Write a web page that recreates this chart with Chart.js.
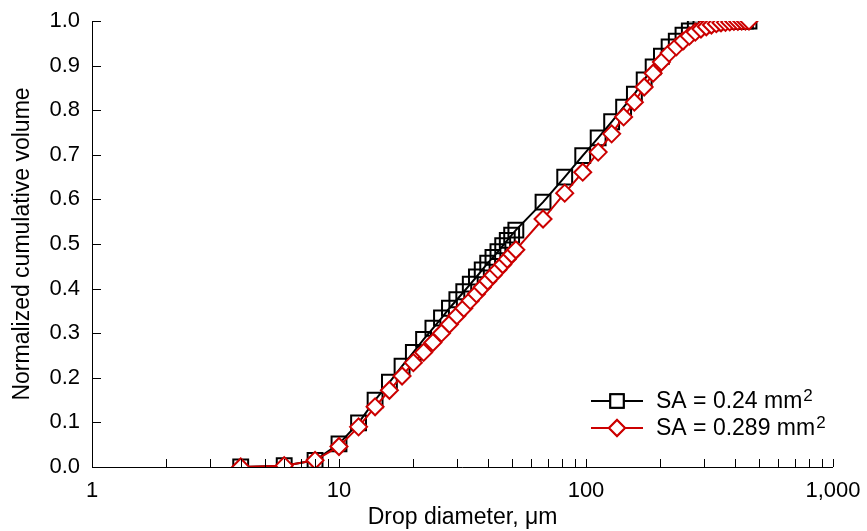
<!DOCTYPE html>
<html>
<head>
<meta charset="utf-8">
<script src="https://cdn.jsdelivr.net/npm/chart.js@4.4.1/dist/chart.umd.min.js"></script>
<style>
html,body{margin:0;padding:0;background:#fff;}
#wrap{position:relative;width:867px;height:531px;}
</style>
</head>
<body>
<div id="wrap"><canvas id="c" width="867" height="531"></canvas></div>
<script>
// Drop diameters (µm)
const diameters = [4,6,8,10,12,14,16,18,20,22,24,26,28,30,32,34,36,38,40,42,44,46,48,50,52,
  67,82,97,112,127,142,157,172,187,202,217,232,247,262,277,292,307,322,337,352,367,382,397,412,427,442,457];
// Normalized cumulative volume, SA = 0.24 mm²
const volSA024 = [0.0,0.003,0.015,0.052,0.099,0.150,0.190,0.226,0.257,0.286,0.311,0.334,0.356,0.375,0.393,0.410,0.426,0.442,0.457,0.470,0.483,0.496,0.508,0.520,0.531,
  0.594,0.650,0.698,0.738,0.774,0.807,0.836,0.868,0.897,0.921,0.942,0.955,0.968,0.978,0.985,0.990,0.994,0.996,0.998,0.999,1.0,1.0,1.0,1.0,1.0,1.0,1.0];
// Normalized cumulative volume, SA = 0.289 mm²
const volSA0289 = [0.0,0.003,0.015,0.046,0.090,0.135,0.172,0.204,0.234,0.257,0.279,0.300,0.320,0.339,0.356,0.373,0.388,0.403,0.417,0.430,0.442,0.454,0.466,0.477,0.487,
  0.556,0.614,0.661,0.706,0.747,0.785,0.818,0.852,0.883,0.908,0.928,0.942,0.955,0.966,0.975,0.982,0.987,0.991,0.994,0.996,0.997,0.998,0.999,0.999,1.0,1.0,1.0];
const xTickLabels = {1:'1',10:'10',100:'100',1000:'1,000'};
const yTicks = [0,0.1,0.2,0.3,0.4,0.5,0.6,0.7,0.8,0.9,1.0];
const seriesNames = ['SA = 0.24 mm', 'SA = 0.289 mm'];

const RED = '#cc0000';
const FONT = '"Liberation Sans", Arial, sans-serif';

const toPts = vals => diameters.map((d,i)=>({x:d,y:vals[i]}));

const axesPlugin = {
  id:'axesPlugin',
  afterDraw(chart){
    const ctx = chart.ctx, a = chart.chartArea, xs = chart.scales.x, ys = chart.scales.y;
    ctx.save();
    ctx.strokeStyle = '#000'; ctx.lineWidth = 1;
    ctx.beginPath();
    ctx.moveTo(Math.round(a.left)+0.5, a.top);
    ctx.lineTo(Math.round(a.left)+0.5, Math.round(a.bottom)+0.5);
    ctx.lineTo(a.right, Math.round(a.bottom)+0.5);
    ctx.stroke();
    // x ticks (major + minor), inward
    ctx.beginPath();
    for (let dec=1; dec<1000; dec*=10){
      for (let m=1; m<=10; m++){
        const v = dec*m; if (v>1000) continue;
        const px = Math.round(xs.getPixelForValue(v))+0.5;
        ctx.moveTo(px, a.bottom); ctx.lineTo(px, a.bottom-8);
      }
    }
    yTicks.forEach(v=>{
      const py = Math.round(ys.getPixelForValue(v))+0.5;
      ctx.moveTo(a.left, py); ctx.lineTo(a.left+9, py);
    });
    ctx.stroke();
    ctx.restore();
  }
};

const legendPlugin = {
  id:'legendPlugin',
  afterDraw(chart){
    const ctx = chart.ctx;
    const items = [
      {y:401, color:'#000', style:'rect', r:9.5},
      {y:428, color:RED, style:'rectRot', r:8}
    ];
    ctx.save();
    items.forEach((it,i)=>{
      ctx.strokeStyle = it.color; ctx.lineWidth = 2;
      ctx.beginPath(); ctx.moveTo(591,it.y); ctx.lineTo(643,it.y); ctx.stroke();
      ctx.fillStyle = '#fff';
      Chart.helpers.drawPoint(ctx,{pointStyle:it.style,radius:it.r,borderWidth:2},617,it.y);
      ctx.fill(); ctx.stroke();
      ctx.fillStyle = '#000';
      ctx.font = '23px ' + FONT;
      ctx.textBaseline = 'middle'; ctx.textAlign = 'left';
      ctx.fillText(seriesNames[i], 656, it.y+1);
      const w = ctx.measureText(seriesNames[i]).width;
      ctx.font = '17px ' + FONT;
      ctx.fillText('2', 656+w+1, it.y-5);
    });
    ctx.restore();
  }
};

new Chart(document.getElementById('c'), {
  type:'line',
  data:{
    datasets:[
      {label:seriesNames[0], data:toPts(volSA024), borderColor:'#000', borderWidth:2,
       pointStyle:'rect', pointRadius:10.5, pointBorderWidth:2, pointBackgroundColor:'rgba(255,255,255,0)',
       pointBorderColor:'#000', order:2, tension:0},
      {label:seriesNames[1], data:toPts(volSA0289), borderColor:RED, borderWidth:2,
       pointStyle:'rectRot', pointRadius:8.5, pointBorderWidth:2, pointBackgroundColor:'#fff',
       pointBorderColor:RED, order:1, tension:0}
    ]
  },
  options:{
    responsive:false, animation:false, devicePixelRatio:1,
    layout:{padding:{top:21,right:34,left:0,bottom:0}},
    plugins:{legend:{display:false}, tooltip:{enabled:false}},
    scales:{
      x:{type:'logarithmic', min:1, max:1000,
        afterBuildTicks(s){ s.ticks = [1,10,100,1000].map(v=>({value:v})); },
        afterFit(s){ s.height = 64; },
        grid:{display:false}, border:{display:false},
        ticks:{autoSkip:false, maxRotation:0, padding:3, color:'#000',
          font:{family:FONT,size:22}, callback:(v)=>xTickLabels[v]||''},
        title:{display:true, text:'Drop diameter, μm', color:'#000', font:{family:FONT,size:23}, padding:{top:0,bottom:0}}
      },
      y:{min:0, max:1,
        afterBuildTicks(s){ s.ticks = yTicks.map(v=>({value:v})); },
        afterFit(s){ s.width = 92; },
        grid:{display:false}, border:{display:false},
        ticks:{color:'#000', padding:4, font:{family:FONT,size:22}, callback:(v)=>Number(v).toFixed(1)},
        title:{display:true, text:'Normalized cumulative volume', color:'#000', font:{family:FONT,size:23}, padding:{top:9,bottom:0}}
      }
    }
  },
  plugins:[axesPlugin, legendPlugin]
});
</script>
</body>
</html>
